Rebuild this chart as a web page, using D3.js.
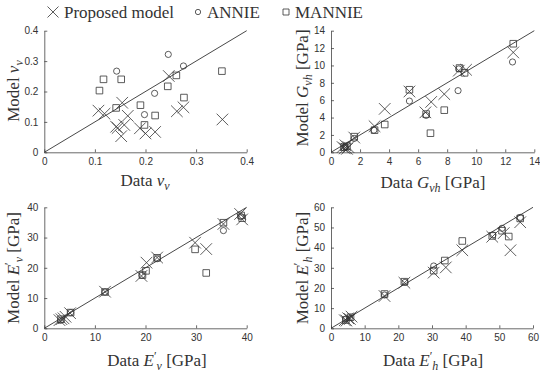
<!DOCTYPE html>
<html><head><meta charset="utf-8">
<script src="https://cdn.jsdelivr.net/npm/d3@7"></script>
<style>
body{margin:0;background:#fff;}
svg{display:block;}
.tick text{font-family:"Liberation Sans",Arial,sans-serif;font-size:10px;fill:#333;}
.lab{font-family:"Liberation Serif","Times New Roman",serif;font-size:17px;fill:#333;}
</style>
</head><body>
<svg id="c" width="540" height="375"></svg>
<script>
// ---- data: [data value, model value] ----
const nuProposed = [[0.107,0.137],[0.119,0.127],[0.154,0.163],[0.165,0.12],[0.142,0.084],[0.145,0.080],[0.158,0.090],[0.152,0.053],[0.189,0.079],[0.200,0.062],[0.219,0.067],[0.246,0.251],[0.262,0.135],[0.275,0.148],[0.352,0.108]];
const nuAnnie = [[0.143,0.267],[0.245,0.322],[0.275,0.284],[0.218,0.194],[0.198,0.124]];
const nuMannie = [[0.109,0.203],[0.117,0.240],[0.152,0.240],[0.142,0.146],[0.190,0.155],[0.198,0.090],[0.219,0.121],[0.244,0.217],[0.261,0.253],[0.276,0.180],[0.351,0.267]];

const gProposed = [[0.8,0.6],[0.95,0.45],[1.0,0.8],[1.1,0.4],[1.2,0.6],[1.6,1.7],[3.0,3.0],[3.7,5.0],[5.4,7.0],[6.5,4.6],[6.9,5.8],[7.8,6.7],[8.8,9.4],[9.3,9.5],[12.55,11.5]];
const gAnnie = [[0.9,0.5],[1.0,0.6],[1.6,1.6],[2.95,2.55],[5.4,5.9],[6.55,4.25],[8.75,7.1],[8.8,9.6],[12.5,10.4]];
const gMannie = [[0.9,0.6],[1.1,0.7],[1.6,1.8],[3.0,2.55],[3.7,3.2],[5.4,7.2],[6.55,4.4],[6.85,2.2],[7.8,4.85],[8.85,9.7],[9.2,9.15],[12.55,12.5]];

const evProposed = [[3.0,2.7],[3.4,3.0],[3.8,3.3],[4.2,3.8],[5.1,5.0],[12.0,12.1],[19.2,17.3],[20.2,21.7],[22.3,23.4],[29.8,28.3],[32.0,26.2],[35.4,34.5],[38.7,37.8],[39.1,36.0]];
const evAnnie = [[3.2,2.6],[5.2,5.2],[12.0,12.0],[19.3,17.5],[22.3,23.0],[35.4,32.3],[38.8,37.0]];
const evMannie = [[3.3,3.0],[5.2,5.2],[12.0,12.0],[19.4,17.6],[20.1,19.0],[22.3,23.3],[29.8,26.1],[32.0,18.3],[35.4,34.9],[38.9,37.3],[39.1,36.4]];

const ehProposed = [[4.1,4.0],[4.6,3.8],[5.1,5.0],[5.6,4.6],[6.1,5.8],[15.9,16.0],[21.8,22.6],[30.5,27.6],[34.1,30.2],[39.0,38.7],[47.9,45.4],[51.3,47.2],[53.3,38.7],[56.2,52.6]];
const ehAnnie = [[4.4,4.6],[5.5,5.2],[15.9,16.5],[22.0,22.8],[30.5,30.9],[48.1,46.3],[50.8,49.6],[56.2,55.0]];
const ehMannie = [[4.4,4.1],[5.8,5.5],[15.9,17.0],[21.8,23.1],[30.5,28.6],[33.8,33.6],[39.0,43.3],[47.9,45.8],[50.8,48.4],[52.8,45.5],[56.2,54.5]];

const nuTicks = [0,0.1,0.2,0.3,0.4];
const gTicks = [0,2,4,6,8,10,12,14];
const evTicks = [0,10,20,30,40];
const ehTicks = [0,10,20,30,40,50,60];

const legendLabels = ["Proposed model","ANNIE","MANNIE"];

const svg = d3.select("#c");
const ink = "#333";

function crossPath(s){return `M${-s},${-s}L${s},${s}M${-s},${s}L${s},${-s}`;}

function drawMarkers(g, x, y, data, kind){
  const sel = g.append("g").selectAll("path").data(data).join("path")
    .attr("transform", d=>`translate(${x(d[0])},${y(d[1])})`)
    .attr("fill","none").attr("stroke",ink).attr("stroke-width",0.8);
  if(kind==="x") sel.attr("d", crossPath(5.8));
  else if(kind==="o") sel.attr("d", d3.symbol(d3.symbolCircle, 30)());
  else sel.attr("d", "M-3.3,-3.3H3.3V3.3H-3.3Z");
}

function addLabel(g, parts, x, y, rotate){
  const t = g.append("text").attr("class","lab").attr("text-anchor","middle")
    .attr("transform", `translate(${x},${y})` + (rotate? " rotate(-90)":""));
  parts.forEach(p=>{
    const ts = t.append("tspan").text(p.t);
    if(p.it) ts.attr("font-style","italic");
    if(p.dy!==undefined) ts.attr("dy", p.dy);
    if(p.dx!==undefined) ts.attr("dx", p.dx);
    if(p.fs) ts.attr("font-size", p.fs);
  });
}

function panel(opts){
  const {x0,x1,yb,yt,max,ticks,fmt,series,xlab,ylab,xl,yl} = opts;
  const g = svg.append("g");
  const x = d3.scaleLinear().domain([0,max]).range([x0,x1]);
  const y = d3.scaleLinear().domain([0,max]).range([yb,yt]);
  const xa = g.append("g").attr("transform",`translate(0,${yb})`)
    .call(d3.axisBottom(x).tickValues(ticks).tickFormat(fmt).tickSizeInner(-3).tickSizeOuter(0).tickPadding(6));
  const ya = g.append("g").attr("transform",`translate(${x0},0)`)
    .call(d3.axisLeft(y).tickValues(ticks).tickFormat(fmt).tickSizeInner(-3).tickSizeOuter(0).tickPadding(6));
  [xa,ya].forEach(a=>{a.select(".domain").attr("stroke","#444").attr("stroke-width",0.8);
    a.selectAll(".tick line").attr("stroke","#444").attr("stroke-width",0.8);});
  g.append("line").attr("x1",x(0)).attr("y1",y(0)).attr("x2",x(max)).attr("y2",y(max))
    .attr("stroke","#333").attr("stroke-width",0.9);
  drawMarkers(g,x,y,series[0],"x");
  drawMarkers(g,x,y,series[1],"o");
  drawMarkers(g,x,y,series[2],"s");
  addLabel(g, xlab, xl[0], xl[1], false);
  addLabel(g, ylab, yl[0], yl[1], true);
}

const f1 = d=> d===0?"0":d3.format(".1f")(d);
const fi = d3.format("d");

panel({x0:44.3,x1:246.7,yb:152.3,yt:30.7,max:0.4,ticks:nuTicks,fmt:f1,
  series:[nuProposed,nuAnnie,nuMannie],
  xlab:[{t:"Data "},{t:"ν",it:true},{t:"v",it:true,dy:4,fs:"12px"}],
  ylab:[{t:"Model "},{t:"ν",it:true},{t:"v",it:true,dy:4,fs:"12px"}],
  xl:[145,186],yl:[19,91]});

panel({x0:331,x1:534.3,yb:152.3,yt:30.7,max:14,ticks:gTicks,fmt:fi,
  series:[gProposed,gAnnie,gMannie],
  xlab:[{t:"Data "},{t:"G",it:true},{t:"vh",it:true,dy:4,fs:"12px"},{t:" [GPa]",dy:-4}],
  ylab:[{t:"Model "},{t:"G",it:true},{t:"vh",it:true,dy:4,fs:"12px"},{t:" [GPa]",dy:-4}],
  xl:[433,188],yl:[308,88]});

panel({x0:44.3,x1:246.7,yb:328.3,yt:207.3,max:40,ticks:evTicks,fmt:fi,
  series:[evProposed,evAnnie,evMannie],
  xlab:[{t:"Data "},{t:"E",it:true},{t:"′",dy:-6,fs:"12px"},{t:"v",it:true,dy:10,fs:"12px"},{t:" [GPa]",dy:-4}],
  ylab:[{t:"Model "},{t:"E",it:true},{t:"′",dy:-6,fs:"12px"},{t:"v",it:true,dy:10,fs:"12px"},{t:" [GPa]",dy:-4}],
  xl:[157,366],yl:[19,268]});

panel({x0:331,x1:533,yb:328.3,yt:207.3,max:60,ticks:ehTicks,fmt:fi,
  series:[ehProposed,ehAnnie,ehMannie],
  xlab:[{t:"Data "},{t:"E",it:true},{t:"′",dy:-6,fs:"12px"},{t:"h",it:true,dy:10,fs:"12px"},{t:" [GPa]",dy:-4}],
  ylab:[{t:"Model "},{t:"E",it:true},{t:"′",dy:-6,fs:"12px"},{t:"h",it:true,dy:10,fs:"12px"},{t:" [GPa]",dy:-4}],
  xl:[433,366],yl:[308,268]});

// legend
const leg = svg.append("g");
const legX = [53,198,286];
const kinds = ["x","o","s"];
legendLabels.forEach((lab,i)=>{
  const p = leg.append("path").attr("transform",`translate(${legX[i]},12)`)
    .attr("fill","none").attr("stroke",ink).attr("stroke-width",0.8);
  if(kinds[i]==="x") p.attr("d",crossPath(5.5));
  else if(kinds[i]==="o") p.attr("d",d3.symbol(d3.symbolCircle,22)());
  else p.attr("d","M-3,-3H3V3H-3Z");
  leg.append("text").attr("class","lab").attr("x",legX[i]+(i===0?11:9)).attr("y",17.5).text(lab);
});
</script>
</body></html>
